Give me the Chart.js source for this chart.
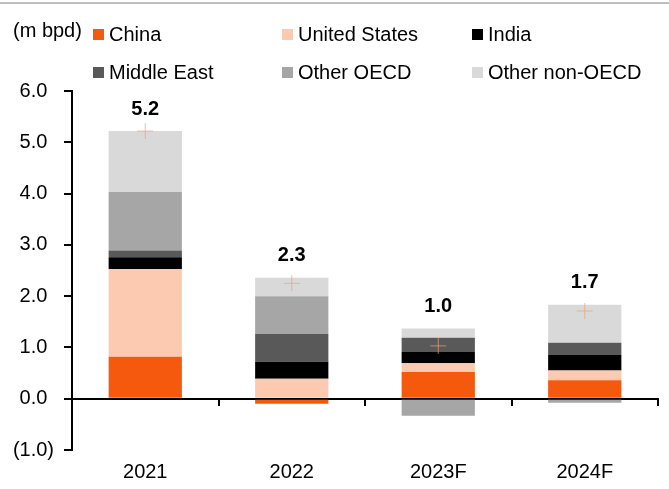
<!DOCTYPE html>
<html>
<head>
<meta charset="utf-8">
<script src="https://cdn.jsdelivr.net/npm/chart.js@4.4.0/dist/chart.umd.min.js"></script>
<style>
  body { margin: 0; background: #fff; font-family: "Liberation Sans", Arial, sans-serif; }
  #wrap { position: relative; width: 669px; height: 489px; }
  #topline { position: absolute; left: 0; top: 2px; width: 669px; height: 2px; background: #bfbfbf; }
  #unit { position: absolute; left: 13px; top: 18px; font-size: 20px; line-height: 24px; }
  .item { position: absolute; font-size: 20px; line-height: 24px; white-space: nowrap; }
  .box { position: absolute; left: 0; top: 7px; width: 11px; height: 11px; }
  .label { position: absolute; left: 16px; top: 0; }
  canvas { position: absolute; left: 0; top: 0; }
</style>
</head>
<body>
<div id="wrap">
  <canvas id="barChart" width="669" height="489"></canvas>
  <div id="topline"></div>
  <div id="unit">(m bpd)</div>
  <div id="legend"></div>
</div>
<script>
// Chart data
const categories = ['2021', '2022', '2023F', '2024F'];
const seriesNames = ['China', 'United States', 'India', 'Middle East', 'Other OECD', 'Other non-OECD'];
const china = [0.82, -0.10, 0.52, 0.36];
const unitedStates = [1.71, 0.39, 0.17, 0.19];
const india = [0.23, 0.33, 0.22, 0.30];
const middleEast = [0.13, 0.54, 0.28, 0.24];
const otherOECD = [1.14, 0.74, -0.33, -0.08];
const otherNonOECD = [1.19, 0.36, 0.18, 0.74];
const netTotal = [5.22, 2.25, 1.03, 1.71];
const totalLabels = ['5.2', '2.3', '1.0', '1.7'];

const seriesData = [china, unitedStates, india, middleEast, otherOECD, otherNonOECD];
const seriesColors = ['#f4590d', '#fbcab0', '#000000', '#595959', '#a6a6a6', '#d9d9d9'];

// Legend laid out in three columns, two rows
const legendCols = [93, 282, 472];
const legendRows = [22, 60];
const legend = document.getElementById('legend');
seriesNames.forEach((name, i) => {
    let item = document.createElement('div');
    item.className = 'item';
    item.style.left = legendCols[i % 3] + 'px';
    item.style.top = legendRows[Math.floor(i / 3)] + 'px';
    item.innerHTML = '<span class="box" style="background:' + seriesColors[i] + '"></span><span class="label">' + name + '</span>';
    legend.appendChild(item);
});

// Bold total above each positive stack
const totalLabelPlugin = {
    id: 'totalLabels',
    afterDatasetsDraw(chart) {
        const ctx = chart.ctx;
        const x = chart.scales.x;
        const y = chart.scales.y;
        ctx.save();
        ctx.font = 'bold 20px "Liberation Sans", Arial, sans-serif';
        ctx.fillStyle = '#000';
        ctx.textAlign = 'center';
        ctx.textBaseline = 'middle';
        categories.forEach((c, i) => {
            let top = 0;
            seriesData.forEach(s => { if (s[i] > 0) top += s[i]; });
            ctx.fillText(totalLabels[i], x.getPixelForValue(i), y.getPixelForValue(top) - 22);
        });
        ctx.restore();
    }
};

const datasets = seriesNames.map((name, i) => ({
    label: name,
    data: seriesData[i],
    backgroundColor: seriesColors[i],
    borderWidth: 0,
    barPercentage: 1,
    categoryPercentage: 0.5
}));
datasets.push({
    type: 'line',
    label: 'Total',
    data: netTotal,
    showLine: false,
    pointStyle: 'cross',
    pointRadius: 8,
    borderColor: 'rgba(240,160,120,0.7)',
    borderWidth: 1,
    order: -1
});

const ctx = document.getElementById('barChart').getContext('2d');
const chart = new Chart(ctx, {
    type: 'bar',
    data: { labels: categories, datasets: datasets },
    plugins: [totalLabelPlugin],
    options: {
        responsive: false,
        animation: false,
        devicePixelRatio: 1,
        layout: { padding: { top: 91, right: 11, left: 0, bottom: 0 } },
        plugins: { legend: { display: false }, tooltip: { enabled: false } },
        scales: {
            x: {
                type: 'category',
                stacked: true,
                position: { y: 0 },
                offset: true,
                grid: { display: true, drawOnChartArea: false, offset: true, tickLength: 6, color: '#000', lineWidth: 2 },
                border: { display: true, color: '#000', width: 2 },
                ticks: { display: false }
            },
            x2: {
                type: 'category',
                labels: categories,
                position: 'bottom',
                offset: true,
                grid: { display: false, drawTicks: false },
                border: { display: false },
                ticks: { color: '#000', font: { family: '"Liberation Sans", Arial, sans-serif', size: 20 }, padding: 10 },
                afterFit: s => { s.height = 39; }
            },
            y: {
                stacked: true,
                min: -1,
                max: 6,
                ticks: {
                    stepSize: 1,
                    color: '#000',
                    padding: 10,
                    font: { family: '"Liberation Sans", Arial, sans-serif', size: 20 },
                    // positives keep room for the closing bracket, like 0.0_);(0.0)
                    callback: v => v < 0 ? '(' + Math.abs(v).toFixed(1) + ')' : v.toFixed(1) + '\u2005\u200a'
                },
                grid: { drawOnChartArea: false, tickLength: 8, color: '#000', lineWidth: 2 },
                border: { color: '#000', width: 2 },
                afterFit: s => { s.width = 72; }
            }
        }
    }
});
</script>
</body>
</html>
